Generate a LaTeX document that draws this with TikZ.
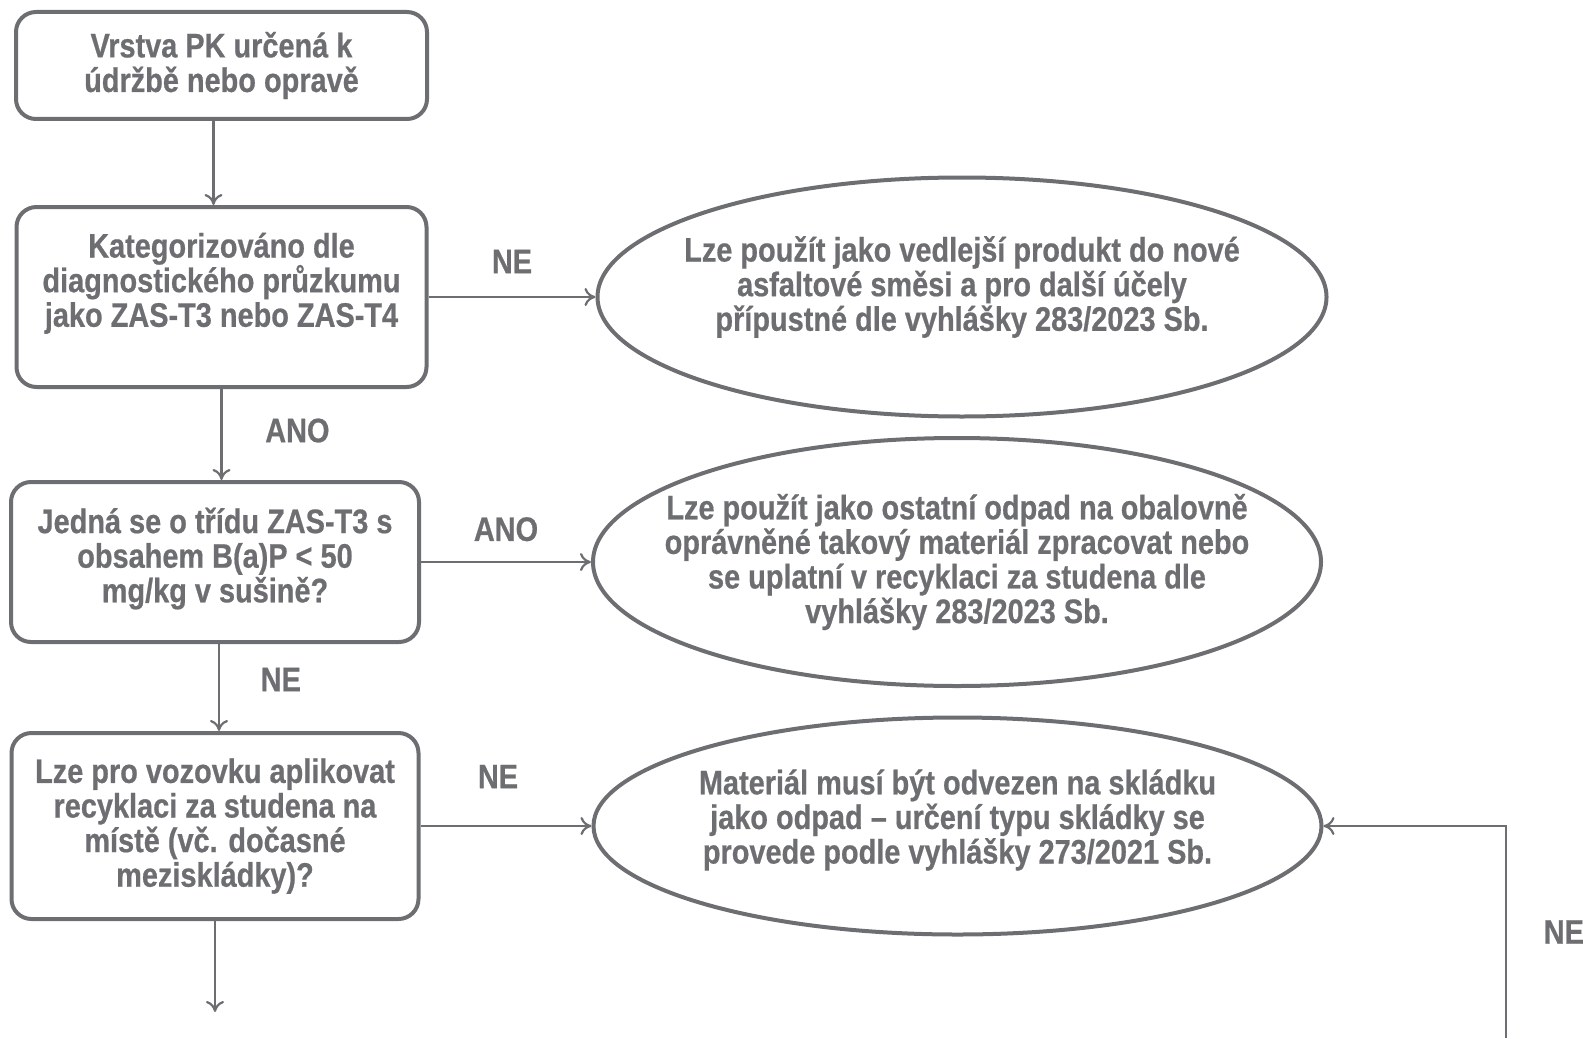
\documentclass[tikz,border=0pt]{standalone}
\usepackage{fontspec}
\setmainfont{Liberation Sans}[FakeStretch=0.85, BoldFeatures={FakeBold=0.6}]
\usetikzlibrary{positioning,shapes.geometric,arrows.meta}
\definecolor{flowgray}{RGB}{109,110,113}
\tikzset{every node/.style={text=flowgray, font=\bfseries\fontsize{17pt}{17.3pt}\selectfont}}
\tikzstyle{box}=[draw=flowgray, line width=2pt, rounded corners=10pt, align=center, inner sep=0pt]
\tikzstyle{oval}=[draw=flowgray, line width=2pt, ellipse, inner sep=0pt]
\tikzstyle{txt}=[align=center, inner sep=0pt]
\tikzstyle{arr}=[draw=flowgray, line width=1.1pt, -{Computer Modern Rightarrow[length=5.5pt,width=9pt]}]

\begin{document}
\begin{tikzpicture}
        \useasboundingbox (0,0) rectangle (791.5pt,-519pt);
        % left column
        \node (1) [box, minimum width=205.5pt, minimum height=53.5pt] at (110.75pt,-32.75pt) {Vrstva PK určená k\\ údržbě nebo opravě};
        \node (2) [box, below=42pt of 1, minimum width=205pt, minimum height=90pt] {Kategorizováno dle\\ diagnostického průzkumu\\ jako ZAS-T3 nebo ZAS-T4\\ \mbox{}};
        \node (3) [box, below=45.5pt of 2, xshift=-3.25pt, minimum width=204pt, minimum height=80pt, text depth=7pt] {Jedná se o třídu ZAS-T3 s\\ obsahem B(a)P < 50\\ mg/kg v sušině?};
        \node (4) [box, below=43.5pt of 3, minimum width=203.5pt, minimum height=93pt] {Lze pro vozovku aplikovat\\ recyklaci za studena na\\ místě (vč. dočasné\\ meziskládky)?};
        \coordinate (d4) at ([yshift=-45.5pt]4.south);
        % right column
        \node (o1) [oval, right=83.5pt of 2, minimum width=364.5pt, minimum height=119.5pt] {};
        \node (t1) [txt] at ([yshift=5pt]o1.center) {Lze použít jako vedlejší produkt do nové\\ asfaltové směsi a pro další účely\\ přípustné dle vyhlášky 283/2023 Sb.};
        \node (o2) [oval, right=85pt of 3, minimum width=364pt, minimum height=124pt] {};
        \node (t2) [txt] at (o2.center) {Lze použít jako ostatní odpad na obalovně\\ oprávněné takový materiál zpracovat nebo\\ se uplatní v recyklaci za studena dle\\ vyhlášky 283/2023 Sb.};
        \node (o3) [oval, right=85.5pt of 4, minimum width=364pt, minimum height=108.5pt] {};
        \node (t3) [txt] at ([yshift=3pt]o3.center) {Materiál musí být odvezen na skládku\\ jako odpad – určení typu skládky se\\ provede podle vyhlášky 273/2021 Sb.};
        \coordinate (r3) at (753pt,-519pt);
        % connectors
        \draw ([xshift=-4pt]1.south) edge[arr] ([xshift=-4pt]1.south |- 2.north);
        \draw (2.south) edge[arr] node[right=18pt, yshift=2pt] {ANO} (2.south |- 3.north);
        \draw ([xshift=2pt]3.south) edge[arr] node[right=17pt, yshift=4pt] {NE} ([xshift=2pt]3.south |- 4.north);
        \draw (4) edge[arr] (d4);
        \draw (2) edge[arr] node[above=8pt] {NE} (o1);
        \draw (3) edge[arr] node[above=6.5pt] {ANO} (o2);
        \draw (4) edge[arr] node[above=15pt, xshift=-4pt] {NE} (o3);
        \draw[arr] (r3) |- node[pos=0.25, right=15pt] {NE} (o3.east);
\end{tikzpicture}
\end{document}
